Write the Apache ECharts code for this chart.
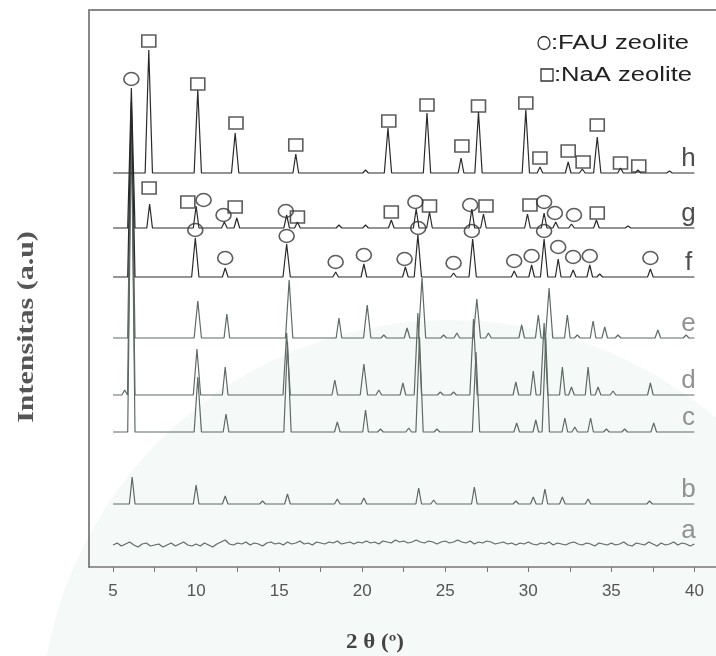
<!DOCTYPE html>
<html>
<head>
<meta charset="utf-8">
<script src="https://cdn.jsdelivr.net/npm/echarts@6/dist/echarts.min.js"></script>
<style>
  html, body { margin: 0; padding: 0; background: #fff; }
  #chart { width: 716px; height: 656px; }
</style>
</head>
<body>
<div id="chart"></div>
<script>
// trace names, bottom to top
const traceNames = ['a', 'b', 'c', 'd', 'e', 'f', 'g', 'h'];
// vertical offset (a.u.) of each pattern's baseline
const traceOffsets = [22, 63, 135, 172, 229, 290, 339, 394];

// peaks: [2theta, height above baseline]
const peaksB = [[6.15, 27], [10.0, 19], [11.75, 8], [14.0, 3], [15.5, 10], [18.5, 5], [20.1, 6], [23.4, 16], [24.3, 4],
  [26.75, 17], [29.25, 3], [30.3, 7], [31.0, 15], [32.05, 7], [33.6, 5], [37.3, 3]];
const peaksC = [[6.1, 310], [10.1, 55], [11.8, 18], [15.5, 90], [18.5, 10], [20.2, 22], [21.1, 3], [22.8, 4], [23.45, 95],
  [24.5, 3], [26.85, 80], [29.3, 9], [30.45, 12], [31.05, 95], [32.2, 14], [32.8, 5], [33.75, 14], [34.7, 3], [35.8, 3], [37.55, 9]];
const peaksD = [[5.7, 5], [6.1, 280], [10.05, 46], [11.75, 28], [15.45, 62], [18.35, 15], [20.1, 31], [21.0, 5], [22.45, 12],
  [23.35, 82], [24.7, 3], [25.5, 3], [26.7, 76], [29.25, 13], [30.3, 24], [30.95, 72], [32.05, 28], [32.6, 8], [33.6, 28],
  [34.2, 8], [35.1, 4], [37.35, 12]];
const peaksE = [[6.1, 230], [10.1, 37], [11.85, 24], [15.6, 58], [18.6, 20], [20.3, 33], [21.3, 3], [22.7, 10], [23.6, 60],
  [24.9, 3], [25.7, 5], [26.9, 39], [27.6, 5], [29.6, 13], [30.6, 23], [31.25, 50], [32.35, 23], [32.95, 3], [33.9, 17],
  [34.6, 11], [35.4, 3], [37.8, 8], [39.5, 3]];
const peaksF = [[6.1, 175], [9.95, 39], [11.75, 9], [15.45, 33], [18.4, 5], [20.1, 13], [22.6, 10], [23.35, 42], [25.5, 4],
  [26.65, 38], [29.15, 6], [30.2, 12], [30.95, 38], [31.8, 18], [32.7, 7], [33.7, 12], [34.3, 3], [37.35, 8]];
const peaksG = [[6.1, 140], [7.2, 24], [10.0, 22], [11.7, 6], [12.45, 10], [15.45, 13], [16.1, 6], [18.6, 3], [20.2, 3],
  [21.75, 8], [23.25, 19], [24.05, 16], [26.6, 19], [27.3, 14], [29.95, 14], [30.95, 15], [31.65, 6], [32.6, 4], [34.1, 8], [36.0, 2]];
const peaksH = [[7.15, 123], [10.1, 83], [12.35, 40], [16.0, 19], [20.2, 3], [21.55, 45], [23.9, 60], [25.95, 15], [27.0, 61],
  [29.85, 63], [30.7, 6], [32.4, 11], [33.25, 4], [34.15, 36], [35.55, 5], [36.6, 3], [38.5, 2]];

// trace a (amorphous), read every 0.25 deg from 5 to 40
const traceA = [0, 2, -1, 1, 3, 0, -2, 1, 2, -1, 0, 1, -2, 0, 2, -1, 1, 3, 0, -1,
  1, -1, 2, 0, -2, 1, 3, 5, 1, 0, 2, 1, 3, 0, 2, 1, -1, 2, 3, 1,
  2, 0, 3, 1, 2, 4, 1, 2, 0, 3, 2, 1, 3, 2, 4, 1, 2, 3, 1, 3,
  2, 4, 2, 3, 1, 4, 3, 2, 5, 3, 4, 2, 3, 5, 3, 2, 4, 3, 1, 3,
  4, 2, 3, 5, 3, 2, 4, 1, 3, 2, 4, 3, 1, 2, 3, 1, 2, 0, 2, 1,
  3, 1, 0, 2, 1, 3, 0, 2, 1, 0, 2, 3, 1, 0, 2, 1, -1, 2, 1, 0,
  2, 0, 1, 3, 0, -1, 2, 1, 0, 3, 1, -1, 2, 0, 1, 3, 0, 2, 1, -1, 1];

// phase markers: [2theta, level]
const fauMarks = [[6.1, 488],
  [10.45, 367], [11.65, 352], [15.4, 356], [23.2, 365], [26.5, 362], [30.95, 365], [31.6, 354], [32.75, 352],
  [9.95, 337], [11.75, 309], [15.45, 331], [18.4, 305], [20.1, 312], [22.55, 308], [23.37, 339], [25.5, 304],
  [26.6, 336], [29.15, 306], [30.2, 311], [30.95, 336], [31.8, 320], [32.7, 310], [33.7, 311], [37.35, 309]];
const naaMarks = [[7.15, 526], [10.1, 483], [12.4, 444], [16.0, 422], [21.6, 446], [23.9, 462], [26.0, 421], [27.0, 461],
  [29.85, 464], [30.7, 409], [32.4, 416], [33.3, 405], [34.15, 442], [35.55, 404], [36.65, 401],
  [7.17, 379], [9.5, 365], [12.35, 360], [16.1, 350], [21.75, 355], [24.05, 361], [27.45, 361], [30.1, 362], [34.15, 354]];

const xLabels = [5, 10, 15, 20, 25, 30, 35, 40];
const xTicks = [5, 7.5, 10, 12.5, 15, 17.5, 20, 22.5, 25, 27.5, 30, 32.5, 35, 37.5, 40];

function buildTrace(peaks, offset) {
  const pts = [[5, offset]];
  peaks.forEach(([p, h]) => {
    const w = h > 30 ? 0.22 : 0.17;
    pts.push([p - w, offset], [p, offset + h], [p + w, offset]);
  });
  pts.push([40, offset]);
  return pts.sort((a, b) => a[0] - b[0]);
}

const traceData = [
  traceA.map((v, i) => [5 + i * 0.25, traceOffsets[0] + v]),
  buildTrace(peaksB, traceOffsets[1]),
  buildTrace(peaksC, traceOffsets[2]),
  buildTrace(peaksD, traceOffsets[3]),
  buildTrace(peaksE, traceOffsets[4]),
  buildTrace(peaksF, traceOffsets[5]),
  buildTrace(peaksG, traceOffsets[6]),
  buildTrace(peaksH, traceOffsets[7])
];

const dark = '#2a2a2a';
const grey = '#5e6a64';

const chart = echarts.init(document.getElementById('chart'));

const lineSeries = traceData.map((d, i) => ({
  name: 'trace ' + traceNames[i],
  type: 'line',
  data: d,
  showSymbol: false,
  silent: true,
  z: 2,
  lineStyle: { color: i >= 5 ? dark : grey, width: 1.2 }
}));

const option = {
  animation: false,
  backgroundColor: '#fff',
  graphic: [
    // faint watermark tint
    { type: 'circle', shape: { cx: 450, cy: 730, r: 410 }, style: { fill: '#f5f9f7' }, z: -10, silent: true },
    // legend key
    { type: 'ellipse', shape: { cx: 544, cy: 43, rx: 6, ry: 6.5 }, style: { fill: 'none', stroke: '#333', lineWidth: 1.3 }, silent: true },
    {
      type: 'text', x: 551, y: 43, scaleX: 1.28, silent: true,
      style: { text: ':FAU zeolite', font: '20px "Liberation Sans"', fill: '#222', align: 'left', verticalAlign: 'middle' }
    },
    { type: 'rect', shape: { x: 541, y: 69, width: 12, height: 12 }, style: { fill: 'none', stroke: '#333', lineWidth: 1.3 }, silent: true },
    {
      type: 'text', x: 554, y: 75, scaleX: 1.28, silent: true,
      style: { text: ':NaA zeolite', font: '20px "Liberation Sans"', fill: '#222', align: 'left', verticalAlign: 'middle' }
    },
    {
      type: 'text', x: 375, y: 643, scaleX: 1.15, silent: true,
      style: { text: '2 θ (º)', font: 'bold 20px "Liberation Serif"', fill: '#444', align: 'center', verticalAlign: 'middle' }
    },
    {
      type: 'text', x: 27, y: 327, rotation: Math.PI / 2, scaleX: 1.25, silent: true,
      style: { text: 'Intensitas (a.u)', font: 'bold 24px "Liberation Serif"', fill: '#555', align: 'center', verticalAlign: 'middle' }
    }
  ],
  grid: { left: 89, right: 0, top: 10, bottom: 89 },
  xAxis: [
    {
      type: 'value', min: 3.55, max: 41.3, position: 'bottom',
      axisLine: { lineStyle: { color: '#777', width: 1.5 } },
      axisTick: { customValues: xTicks, length: 5, lineStyle: { color: '#777' } },
      axisLabel: { customValues: xLabels, fontSize: 17, color: '#555', margin: 16, fontFamily: 'Liberation Sans' },
      splitLine: { show: false }
    },
    {
      type: 'value', min: 3.55, max: 41.3, position: 'top',
      axisLine: { lineStyle: { color: '#888', width: 2 } },
      axisTick: { show: false }, axisLabel: { show: false }, splitLine: { show: false }
    }
  ],
  yAxis: {
    type: 'value', min: 0, max: 557,
    axisLine: { show: true, lineStyle: { color: '#888', width: 2 } },
    axisTick: { show: false }, axisLabel: { show: false }, splitLine: { show: false }
  },
  series: [
    ...lineSeries,
    {
      name: 'FAU zeolite', type: 'scatter', symbol: 'circle', symbolSize: [15, 13], z: 5,
      data: fauMarks,
      itemStyle: { color: 'rgba(0,0,0,0)', borderColor: '#333', borderWidth: 1.5 }
    },
    {
      name: 'NaA zeolite', type: 'scatter', symbol: 'rect', symbolSize: [14, 12], z: 5,
      data: naaMarks,
      itemStyle: { color: 'rgba(0,0,0,0)', borderColor: '#333', borderWidth: 1.5 }
    },
    {
      name: 'labels', type: 'scatter', symbolSize: 0, silent: true, z: 6,
      data: traceNames.map((n, i) => ({
        value: [39.65, traceOffsets[i] + 14], name: n,
        label: { color: i >= 5 ? '#222' : '#777' }
      })),
      label: {
        show: true, position: 'inside',
        formatter: p => p.name,
        fontSize: 26, fontFamily: 'Liberation Sans'
      }
    }
  ]
};

chart.setOption(option);
</script>
</body>
</html>
